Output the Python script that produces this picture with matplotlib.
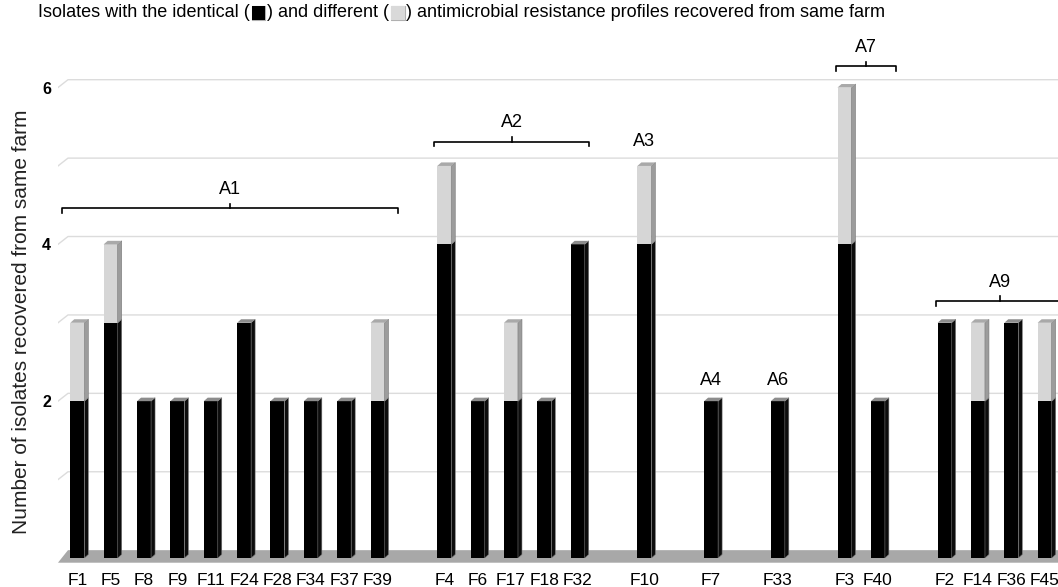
import numpy as np
import matplotlib.pyplot as plt
import matplotlib.patheffects as pe
from matplotlib.patches import Polygon

plt.rcParams['font.family'] = ['Liberation Sans', 'DejaVu Sans']

farms = ['F1', 'F5', 'F8', 'F9', 'F11', 'F24', 'F28', 'F34', 'F37', 'F39',
         'F4', 'F6', 'F17', 'F18', 'F32',
         'F10', 'F7', 'F33', 'F3', 'F40',
         'F2', 'F14', 'F36', 'F45']
# slot of each farm on the x axis (empty slots separate the groups)
slots = [0, 1, 2, 3, 4, 5, 6, 7, 8, 9,
         11, 12, 13, 14, 15,
         17, 19, 21, 23, 24,
         26, 27, 28, 29]
identical = [2, 3, 2, 2, 2, 3, 2, 2, 2, 2,
             4, 2, 2, 2, 4,
             4, 2, 2, 4, 2,
             3, 2, 3, 2]
different = [1, 1, 0, 0, 0, 0, 0, 0, 0, 1,
             1, 0, 1, 0, 0,
             1, 0, 0, 2, 0,
             0, 1, 0, 1]

# cluster labels: (name, first x, last x, bracket height) - no bracket if None
clusters = [('A1', -0.45, 9.6, 4.46),
            ('A2', 10.7, 15.35, 5.31),
            ('A3', 17, 17, None),
            ('A4', 19, 19, None),
            ('A6', 21, 21, None),
            ('A7', 22.75, 24.55, 6.27),
            ('A9', 25.75, 29.55, 3.28)]
label_y = {'A3': 5.2, 'A4': 2.15, 'A6': 2.15}

x = np.array(slots, dtype=float)
ident = np.array(identical, dtype=float)
diff = np.array(different, dtype=float)

W = 0.42      # front face width
DX = 0.12     # bar depth, x units
DY = 0.045    # bar depth, y units
GX = 0.30     # back wall offset
GY = 0.10

fig = plt.figure(figsize=(10.58, 5.87), dpi=100)
ax = fig.add_axes([0.0548, 0.0494, 0.9452, 0.915])
ax.set_xlim(-0.58, 29.4)
ax.set_ylim(0, 6.85)
for s in ax.spines.values():
    s.set_visible(False)

# back wall grid lines with the short slanted piece on the left
for v in range(1, 7):
    ax.plot([-0.58, -0.58 + GX, 29.4], [v, v + GY, v + GY],
            color='#dcdcdc', lw=1.0, zorder=0)

# floor
ax.add_patch(Polygon([(-0.58, -0.06), (-0.58 + GX, GY), (29.4, GY), (29.4, -0.06)],
                     closed=True, facecolor='#a8a8a8', edgecolor='none', zorder=1,
                     clip_on=False))


def box(x0, y0, y1, front, side):
    ax.bar(x0, y1 - y0, W, bottom=y0, color=front, edgecolor='none', zorder=3)
    xr = x0 + W / 2
    ax.add_patch(Polygon([(xr, y0), (xr + DX, y0 + DY), (xr + DX, y1 + DY), (xr, y1)],
                         closed=True, facecolor=side, edgecolor='#777777', lw=0.4, zorder=3))


for xi, a, b in zip(x, ident, diff):
    box(xi, 0, a, '#000000', '#0d0d0d')
    if b > 0:
        box(xi, a, a + b, '#d6d6d6', '#9c9c9c')
    h = a + b
    topc = '#a9a9a9' if b > 0 else '#8c8c8c'
    xl = xi - W / 2
    ax.add_patch(Polygon([(xl, h), (xl + DX, h + DY), (xl + W + DX, h + DY), (xl + W, h)],
                         closed=True, facecolor=topc, edgecolor='none', zorder=4))

# cluster brackets
for name, x0, x1, yb in clusters:
    if yb is None:
        ax.text(x0, label_y[name], name, ha='center', va='bottom', fontsize=13)
        continue
    xm = (x0 + x1) / 2
    ax.plot([x0, x0, x1, x1], [yb - 0.06, yb, yb, yb - 0.06], color='black', lw=1.2,
            clip_on=False)
    ax.plot([xm, xm], [yb, yb + 0.06], color='black', lw=1.2)
    ax.text(xm, yb + 0.13, name, ha='center', va='bottom', fontsize=13)

ax.set_xticks(x)
ax.set_xticklabels(farms, fontsize=12.5)
ax.set_yticks([2, 4, 6])
ax.set_yticklabels(['2', '4', '6'], fontweight='bold', fontsize=11.5)
ax.tick_params(length=0, pad=5)
ax.tick_params(axis='x', pad=11)
ax.set_ylabel('Number of isolates recovered from same farm', fontsize=15, color='#222222')
ax.yaxis.set_label_coords(-0.027, 0.44)

# title, pieces chained left to right so the squares can be coloured
parts = [('Isolates with the identical (', 'black'), ('\u25A0', 'black'),
         (') and different (', 'black'), ('\u25A0', '#d9d9d9'),
         (') antimicrobial resistance profiles recovered from same farm', 'black')]
t = fig.text(0.036, 0.978, parts[0][0], fontsize=13, color=parts[0][1], va='center')
for txt, col in parts[1:]:
    if txt == '\u25A0':
        t = ax.annotate(txt, xy=(1, 0), xycoords=t, va='bottom', ha='left',
                        fontsize=13, color=col, family='DejaVu Sans',
                        annotation_clip=False,
                        path_effects=[pe.withStroke(linewidth=0.8, foreground='#b0b0b0')])
    else:
        t = ax.annotate(txt, xy=(1, 0), xycoords=t, va='bottom', ha='left',
                        fontsize=13, color=col, annotation_clip=False)

fig.savefig('out.png', dpi=100)
